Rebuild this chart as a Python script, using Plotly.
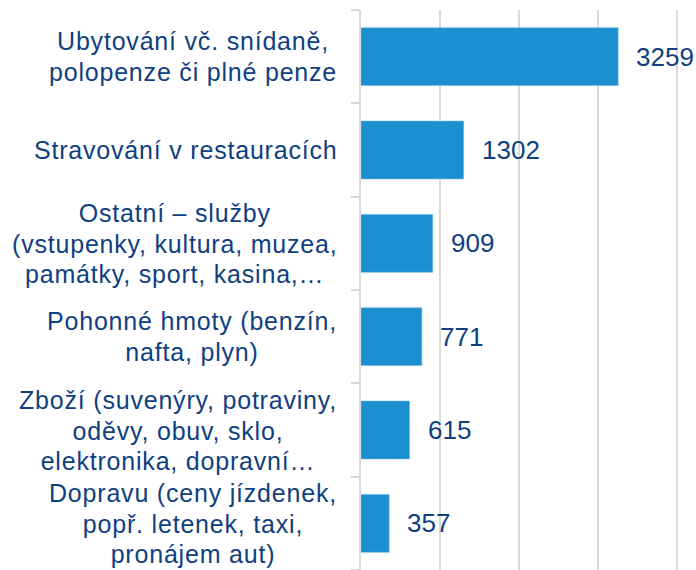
import plotly.graph_objects as go

categories = [
    "Ubytování vč. snídaně,<br>polopenze či plné penze",
    "Stravování v restauracích",
    "Ostatní – služby<br>(vstupenky, kultura, muzea,<br>památky, sport, kasina,…",
    "Pohonné hmoty (benzín,<br>nafta, plyn)",
    "Zboží (suvenýry, potraviny,<br>oděvy, obuv, sklo,<br>elektronika, dopravní…",
    "Dopravu (ceny jízdenek,<br>popř. letenek, taxi,<br>pronájem aut)",
]
values = [3259, 1302, 909, 771, 615, 357]

BAR = "#1B8FCF"
TXT = "#0F4080"
GRID = "#D9D9D9"
FONT = "Liberation Sans, Arial, sans-serif"


def styled(label):
    return "<br>".join('<span style="font-size:25px;letter-spacing:0.8px">%s</span>' % s
                       for s in label.split("<br>"))


fig = go.Figure(go.Bar(
    x=values, y=list(range(len(categories))), orientation="h",
    marker=dict(color=BAR, line=dict(color="#6FB8E2", width=0.6)),
    hoverinfo="skip",
))

ann = []
for i, (c, v) in enumerate(zip(categories, values)):
    ann.append(dict(x=0, xref="paper", y=i, yref="y", text=styled(c), showarrow=False,
                    xanchor="right", yanchor="middle", xshift=-22, align="center",
                    font=dict(family=FONT, size=23.5, color=TXT)))
    ann.append(dict(x=v, xref="x", y=i, yref="y", text=str(v), showarrow=False,
                    xanchor="left", yanchor="middle", xshift=16,
                    font=dict(family=FONT, size=26, color=TXT)))

fig.update_layout(
    width=696, height=570,
    margin=dict(l=361, r=0, t=10, b=0, autoexpand=False),
    paper_bgcolor="white", plot_bgcolor="white",
    bargap=0.38, showlegend=False,
    annotations=ann,
    xaxis=dict(range=[0, 4246], dtick=1000, tick0=0, showgrid=True, gridcolor=GRID,
               gridwidth=2, showticklabels=False, zeroline=False, showline=False,
               automargin=False, fixedrange=True),
    yaxis=dict(range=[5.5, -0.5], showgrid=False, showticklabels=False,
               showline=True, linecolor=GRID, linewidth=2,
               tickmode="array", tickvals=[i - 0.5 for i in range(len(categories) + 1)],
               ticks="outside", ticklen=8, tickcolor=GRID, tickwidth=2,
               zeroline=False, automargin=False, fixedrange=True),
)

fig.write_html("out.html", config={"displayModeBar": False},
               post_script="document.body.style.margin='0px';")
